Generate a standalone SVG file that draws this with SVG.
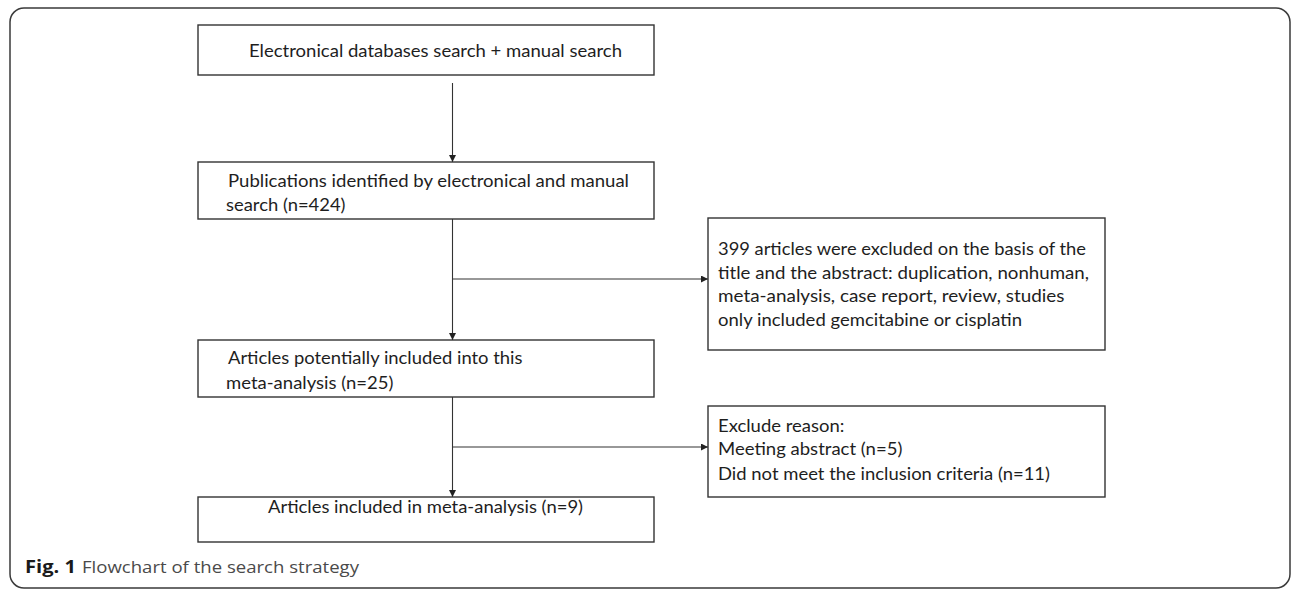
<svg xmlns="http://www.w3.org/2000/svg" width="1292" height="590" viewBox="0 0 1292 590">
  <style>
    .box { fill: #ffffff; stroke: #333333; stroke-width: 1.4; }
    .lbl { font-family: Lato, "Open Sans", "Liberation Sans", sans-serif; font-size: 17.5px; fill: #1e1e1e; }
    .conn { fill: none; stroke: #333333; stroke-width: 1.1; }
    .cap { font-family: "Open Sans", "Liberation Sans", sans-serif; font-size: 17px; }
  </style>
  <defs>
    <marker id="arr" markerUnits="userSpaceOnUse" markerWidth="8" markerHeight="7" refX="7" refY="3.5" orient="auto">
      <path d="M0,0 L7,3.5 L0,7 z" fill="#222222"/>
    </marker>
  </defs>
  <rect width="1292" height="590" fill="#ffffff"/>
  <rect id="frame" x="10" y="8" width="1280" height="580" rx="14" ry="14" fill="none" stroke="#3a3a3a" stroke-width="1.5"/>

  <g id="connectors">
    <line class="conn" x1="452.5" y1="83" x2="452.5" y2="162" marker-end="url(#arr)"/>
    <line class="conn" x1="452.5" y1="219" x2="452.5" y2="340" marker-end="url(#arr)"/>
    <line class="conn" x1="452.5" y1="279" x2="708" y2="279" marker-end="url(#arr)"/>
    <line class="conn" x1="452.5" y1="397" x2="452.5" y2="497" marker-end="url(#arr)"/>
    <line class="conn" x1="452.5" y1="447" x2="708" y2="447" marker-end="url(#arr)"/>
  </g>

  <g id="node-search">
    <rect class="box" x="198" y="25" width="456" height="50"/>
    <text class="lbl" x="249" y="57" textLength="373" lengthAdjust="spacingAndGlyphs">Electronical databases search + manual search</text>
  </g>

  <g id="node-identified">
    <rect class="box" x="198" y="162" width="456" height="57"/>
    <text class="lbl" x="228" y="187" textLength="401" lengthAdjust="spacingAndGlyphs">Publications identified by electronical and manual</text>
    <text class="lbl" x="226" y="211" textLength="119.5" lengthAdjust="spacingAndGlyphs">search (n=424)</text>
  </g>

  <g id="node-excluded1">
    <rect class="box" x="708" y="218" width="397" height="132"/>
    <text class="lbl" x="718" y="255" textLength="368" lengthAdjust="spacingAndGlyphs">399 articles were excluded on the basis of the</text>
    <text class="lbl" x="718" y="279" textLength="371" lengthAdjust="spacingAndGlyphs">title and the abstract: duplication, nonhuman,</text>
    <text class="lbl" x="718" y="302" textLength="346.5" lengthAdjust="spacingAndGlyphs">meta-analysis, case report, review, studies</text>
    <text class="lbl" x="718" y="326" textLength="304" lengthAdjust="spacingAndGlyphs">only included gemcitabine or cisplatin</text>
  </g>

  <g id="node-potential">
    <rect class="box" x="198" y="340" width="456" height="57"/>
    <text class="lbl" x="228" y="364" textLength="294.5" lengthAdjust="spacingAndGlyphs">Articles potentially included into this</text>
    <text class="lbl" x="226" y="389" textLength="167.5" lengthAdjust="spacingAndGlyphs">meta-analysis (n=25)</text>
  </g>

  <g id="node-excluded2">
    <rect class="box" x="708" y="406" width="397" height="91"/>
    <text class="lbl" x="718" y="432" textLength="126.4" lengthAdjust="spacingAndGlyphs">Exclude reason:</text>
    <text class="lbl" x="718" y="455" textLength="184.4" lengthAdjust="spacingAndGlyphs">Meeting abstract (n=5)</text>
    <text class="lbl" x="718" y="480" textLength="332" lengthAdjust="spacingAndGlyphs">Did not meet the inclusion criteria (n=11)</text>
  </g>

  <g id="node-included">
    <rect class="box" x="198" y="497" width="456" height="45"/>
    <text class="lbl" x="268" y="513" textLength="315" lengthAdjust="spacingAndGlyphs">Articles included in meta-analysis (n=9)</text>
  </g>

  <g id="caption">
    <text class="cap" x="25" y="573" font-weight="bold" fill="#1a1a1a" textLength="51" lengthAdjust="spacingAndGlyphs">Fig. 1</text>
    <text class="cap" x="82" y="573" fill="#4a4a4a" textLength="277" lengthAdjust="spacingAndGlyphs">Flowchart of the search strategy</text>
  </g>
</svg>
